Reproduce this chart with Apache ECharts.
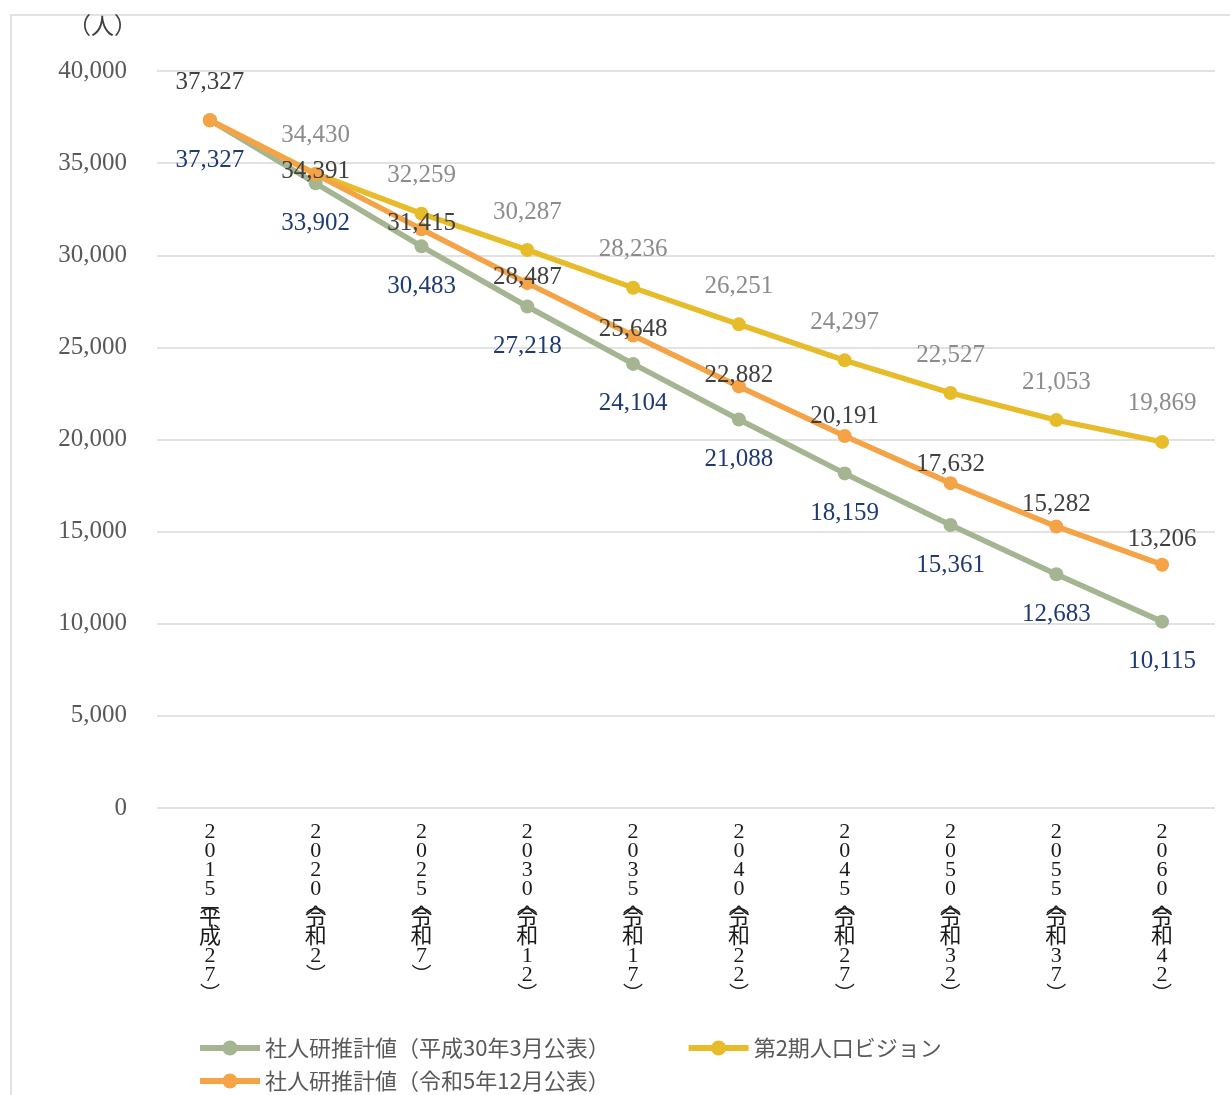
<!DOCTYPE html>
<html>
<head>
<meta charset="utf-8">
<script src="https://cdn.jsdelivr.net/npm/echarts@6/dist/echarts.min.js"></script>
<style>
html,body{margin:0;padding:0;background:#fff;}
#chart{width:1230px;height:1095px;}
</style>
</head>
<body>
<div id="chart"></div>
<script>
// ---- data ----
const categories = ['2015（平成27）','2020（令和2）','2025（令和7）','2030（令和12）','2035（令和17）','2040（令和22）','2045（令和27）','2050（令和32）','2055（令和37）','2060（令和42）'];
const seriesNames = ['社人研推計値（平成30年3月公表）','第2期人口ビジョン','社人研推計値（令和5年12月公表）'];
const ipss2018 = [37327, 33902, 30483, 27218, 24104, 21088, 18159, 15361, 12683, 10115];
const vision2 = [37327, 34430, 32259, 30287, 28236, 26251, 24297, 22527, 21053, 19869];
const ipss2023 = [37327, 34391, 31415, 28487, 25648, 22882, 20191, 17632, 15282, 13206];
const yTicks = {min: 0, max: 40000, interval: 5000};
const unitLabel = '（人）';

// ---- style (label placement) ----
const orangeLabelDy = [-38, -3, -6, -6, -6, -11, -20, -19, -22, -25];
const NUM_FONT = '"Liberation Serif", "Noto Sans CJK JP", serif';
const JP_FONT = '"Noto Sans CJK JP", sans-serif';
const fmt = v => Number(v).toLocaleString('en-US');

function vertical(label) {
  const out = [];
  for (const ch of label) {
    if (ch === '（' || ch === '(') out.push('{p|︵}');
    else if (ch === '）' || ch === ')') out.push('{q|︶}');
    else out.push(ch);
  }
  return out.join('\n');
}

const chart = echarts.init(document.getElementById('chart'));
const legendText = {fontFamily: JP_FONT, fontSize: 22, color: '#595959'};
const option = {
  backgroundColor: '#fff',
  animation: false,
  graphic: [
    {type: 'rect', shape: {x: 11, y: 15, width: 1240, height: 1100}, style: {fill: 'none', stroke: '#d9d9d9', lineWidth: 1.5}, silent: true},
    {type: 'text', left: 68, top: 14, style: {text: unitLabel, font: '23px "Noto Sans CJK JP"', fill: '#404040'}}
  ],
  grid: {left: 157, right: 15, top: 71, bottom: 287, containLabel: false},
  legend: [
    {
      data: [seriesNames[0], seriesNames[1]],
      left: 192, top: 1032, itemWidth: 60, itemHeight: 19, itemGap: 76,
      lineStyle: {width: 6},
      textStyle: legendText
    },
    {
      data: [seriesNames[2]],
      left: 192, top: 1065, itemWidth: 60, itemHeight: 19,
      lineStyle: {width: 6},
      textStyle: legendText
    }
  ],
  xAxis: {
    type: 'category',
    data: categories,
    boundaryGap: true,
    axisLine: {show: false},
    axisTick: {show: false},
    axisLabel: {
      interval: 0, margin: 15,
      fontFamily: NUM_FONT, fontSize: 22, lineHeight: 19, color: '#1a1a1a',
      formatter: v => vertical(v),
      rich: {
        p: {fontFamily: JP_FONT, fontSize: 20, lineHeight: 10, color: '#1a1a1a'},
        q: {fontFamily: JP_FONT, fontSize: 20, lineHeight: 16, color: '#1a1a1a'}
      }
    }
  },
  yAxis: {
    type: 'value',
    min: yTicks.min, max: yTicks.max, interval: yTicks.interval,
    axisLine: {show: false},
    axisTick: {show: false},
    splitLine: {lineStyle: {color: '#d9d9d9', width: 1.5}},
    axisLabel: {margin: 30, fontFamily: NUM_FONT, fontSize: 25, color: '#595959', formatter: v => fmt(v)}
  },
  series: [
    {
      name: seriesNames[0], type: 'line', data: ipss2018, z: 2,
      symbol: 'circle', symbolSize: 14,
      lineStyle: {color: '#a5b592', width: 5.5},
      itemStyle: {color: '#a5b592'},
      label: {show: true, position: 'inside', offset: [0, 40], color: '#1f3a75', fontFamily: NUM_FONT, fontSize: 25, formatter: p => fmt(p.value)}
    },
    {
      name: seriesNames[1], type: 'line', z: 3,
      data: vision2.map((v, i) => i === 0 ? {value: v, label: {show: false}} : v),
      symbol: 'circle', symbolSize: 14,
      lineStyle: {color: '#e6bc2a', width: 5.5},
      itemStyle: {color: '#e6bc2a'},
      label: {show: true, position: 'inside', offset: [0, -38], color: '#8c8c8c', fontFamily: NUM_FONT, fontSize: 25, formatter: p => fmt(p.value)}
    },
    {
      name: seriesNames[2], type: 'line', z: 4,
      data: ipss2023.map((v, i) => ({value: v, label: {offset: [0, orangeLabelDy[i]]}})),
      symbol: 'circle', symbolSize: 14,
      lineStyle: {color: '#f4a446', width: 5.5},
      itemStyle: {color: '#f4a446'},
      label: {show: true, position: 'inside', color: '#404040', fontFamily: NUM_FONT, fontSize: 25, formatter: p => fmt(p.value)}
    }
  ]
};
chart.setOption(option);
</script>
</body>
</html>
